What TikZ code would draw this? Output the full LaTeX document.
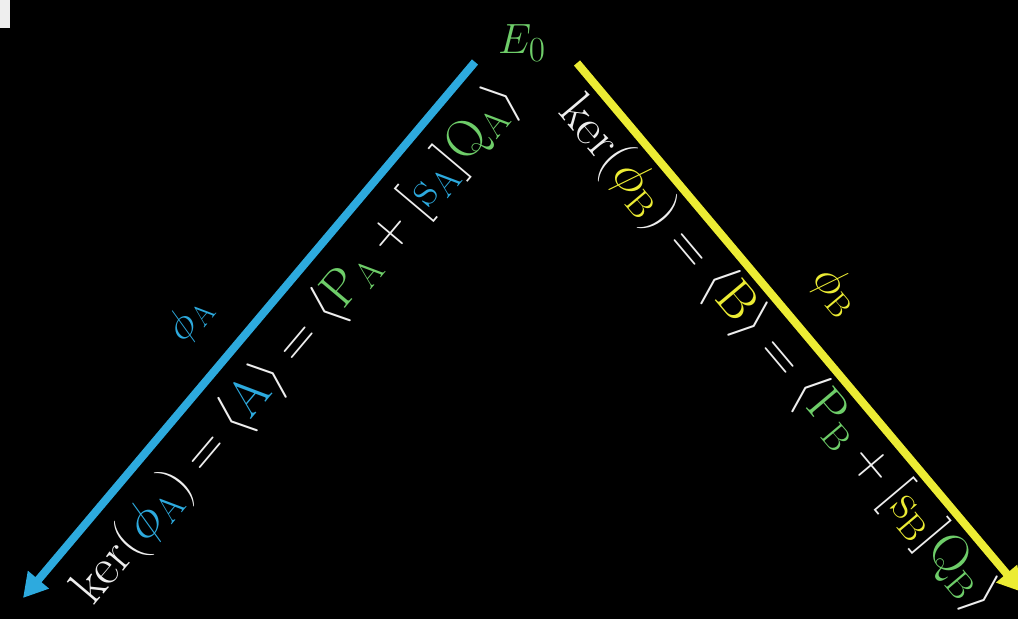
\documentclass[tikz,border=0pt]{standalone}
\usetikzlibrary{arrows.meta}
\definecolor{cyanc}{RGB}{45,170,222}
\definecolor{yelc}{RGB}{236,236,52}
\definecolor{grnc}{RGB}{110,205,105}
\definecolor{txtc}{RGB}{238,238,238}
\tikzset{
  arr/.style={line width=8pt, -{Triangle[length=24pt,width=26pt]}},
  eqtext/.style={text=txtc, inner sep=0pt, font=\Huge, scale=2.1, transform shape},
  lbl/.style={inner sep=0pt, font=\Huge, scale=1.7, transform shape}
}
\newcommand{\sbA}{\mathrm{\scriptscriptstyle A}}
\newcommand{\sbB}{\mathrm{\scriptscriptstyle B}}
\begin{document}
\begin{tikzpicture}[x=1pt,y=1pt]
\fill[black] (0,0) rectangle (1018,619);
\useasboundingbox (0,0) rectangle (1018,619);
\fill[txtc] (0,591) rectangle (10,619);
\coordinate (C1) at (475,557);
\coordinate (C2) at (23,21);
\coordinate (Y1) at (577,556);
\coordinate (Y2) at (1022,27);
\node[lbl, text=grnc] (E0) at (522,576) {$E_{\mathrm{0}}$};
\draw[arr, cyanc] (C1) -- (C2);
\draw[arr, yelc] (Y1) -- (Y2);
\node[eqtext, rotate=49.86] (kerA) at (297,274)
 {$\mathrm{ker}(\textcolor{cyanc}{\phi_{\sbA}}) = \langle \textcolor{cyanc}{\mathrm{A}}\rangle = \langle \textcolor{grnc}{\mathrm{P}_{\sbA}} + [\textcolor{cyanc}{\mathrm{s}_{\sbA}}]\textcolor{grnc}{\mathrm{Q}_{\sbA}}\rangle$};
\node[eqtext, rotate=-49.9] (kerB) at (778,264)
 {$\mathrm{ker}(\textcolor{yelc}{\phi_{\sbB}}) = \langle \textcolor{yelc}{\mathrm{B}}\rangle = \langle \textcolor{grnc}{\mathrm{P}_{\sbB}} + [\textcolor{yelc}{\mathrm{s}_{\sbB}}]\textcolor{grnc}{\mathrm{Q}_{\sbB}}\rangle$};
\node[lbl, text=cyanc, rotate=49.86] (phA) at (190,300) {$\phi_{\sbA}$};
\node[lbl, text=yelc, rotate=-49.9, scale=1.1] (phB) at (836,328) {$\phi_{\sbB}$};
\end{tikzpicture}
\end{document}
